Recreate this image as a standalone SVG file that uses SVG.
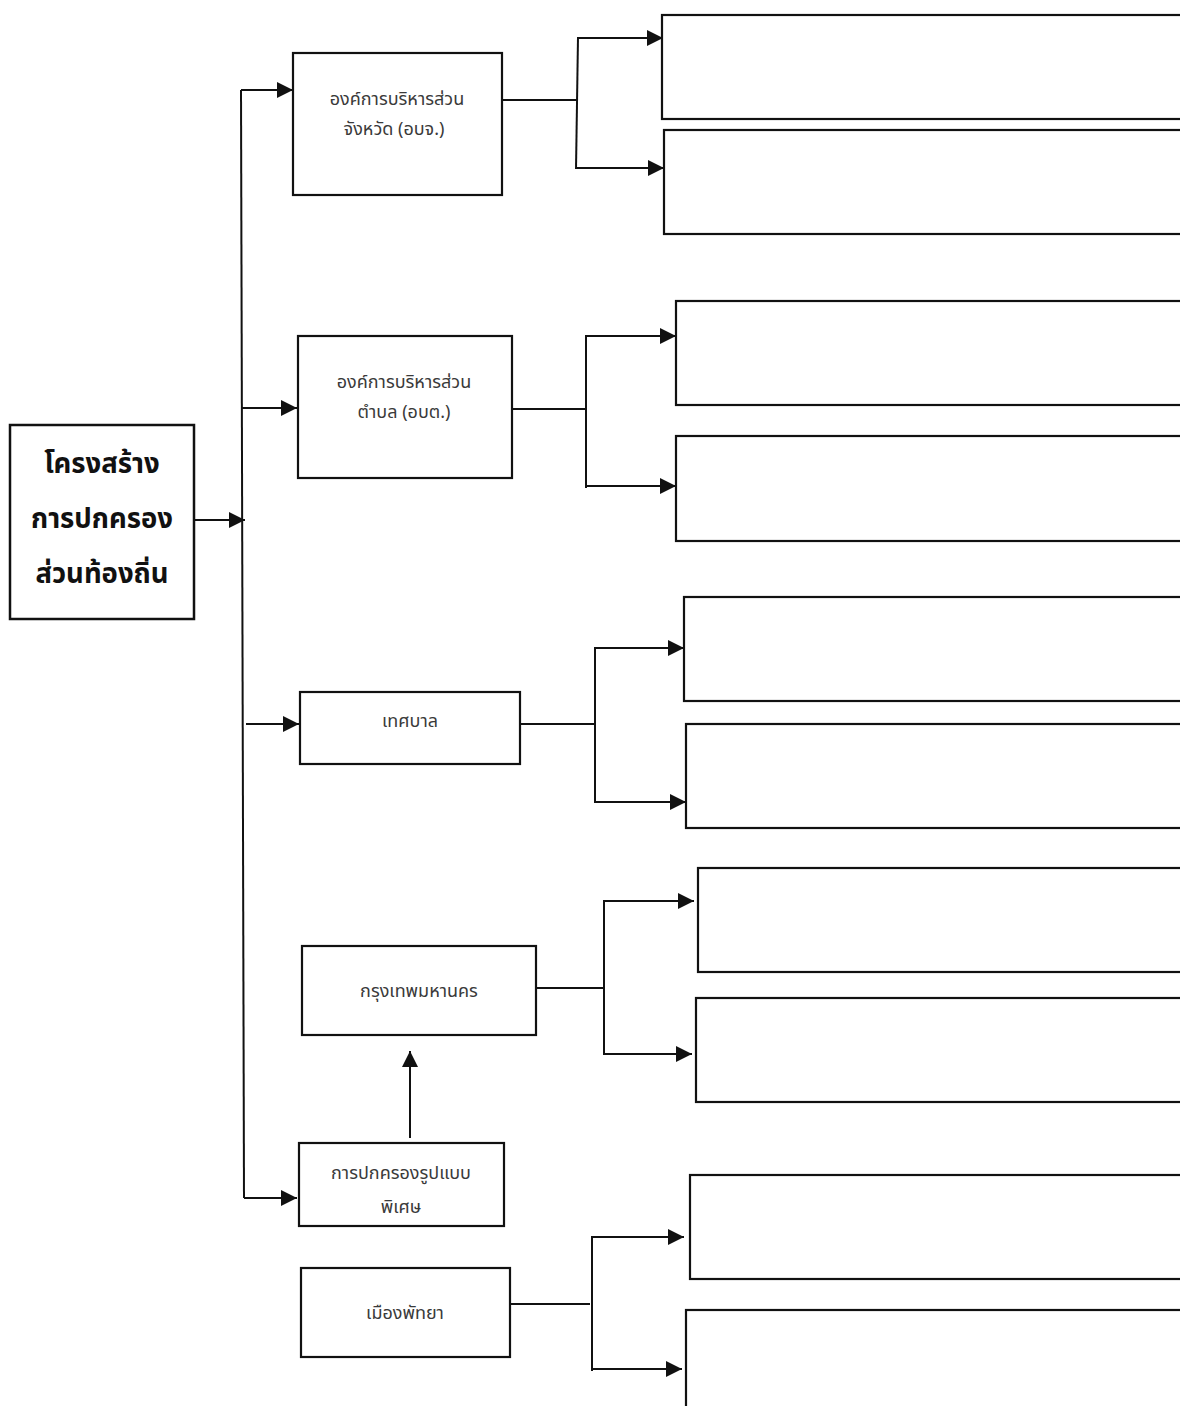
<svg xmlns="http://www.w3.org/2000/svg" width="1180" height="1406" viewBox="0 0 1180 1406">
<style>
  .box { fill: #ffffff; stroke: #111111; stroke-width: 2.2; }
  .main { fill: #ffffff; stroke: #111111; stroke-width: 2.5; }
  .ln { fill: none; stroke: #111111; stroke-width: 2; }
  .arr { fill: none; stroke: #111111; stroke-width: 2; marker-end: url(#ah); }
  .lbl { font-family: "Noto Sans Thai", "Noto Sans Thai UI", "Noto Sans", "DejaVu Sans", sans-serif; font-size: 18px; fill: #3a3a3a; text-anchor: middle; }
  .title { font-family: "Noto Sans Thai", "Noto Sans Thai UI", "Noto Sans", "DejaVu Sans", sans-serif; font-size: 27.5px; font-weight: bold; fill: #111111; text-anchor: middle; }
</style>
<defs>
  <marker id="ah" markerWidth="16" markerHeight="16" refX="16" refY="8" orient="auto" markerUnits="userSpaceOnUse">
    <path d="M0,0 L16,8 L0,16 Z" fill="#111111"/>
  </marker>
</defs>
<rect x="0" y="0" width="1180" height="1406" fill="#ffffff"/>

<g id="connectors">
  <line class="arr" x1="195" y1="520" x2="245" y2="520"/>
  <line class="ln" x1="241" y1="90" x2="244" y2="1198"/>
  <line class="arr" x1="241" y1="90" x2="293" y2="90"/>
  <line class="arr" x1="242" y1="408" x2="297" y2="408"/>
  <line class="arr" x1="246" y1="724" x2="299" y2="724"/>
  <line class="arr" x1="244" y1="1198" x2="297" y2="1198"/>
  <line class="arr" x1="410" y1="1138" x2="410" y2="1051"/>

  <line class="ln" x1="502" y1="100" x2="577" y2="100"/>
  <line class="ln" x1="578" y1="37" x2="576" y2="169"/>
  <line class="arr" x1="578" y1="38" x2="663" y2="38"/>
  <line class="arr" x1="576" y1="168" x2="664" y2="168"/>

  <line class="ln" x1="512" y1="409" x2="586" y2="409"/>
  <line class="ln" x1="586" y1="335" x2="586" y2="488"/>
  <line class="arr" x1="586" y1="336" x2="676" y2="336"/>
  <line class="arr" x1="586" y1="486" x2="676" y2="486"/>

  <line class="ln" x1="520" y1="724" x2="595" y2="724"/>
  <line class="ln" x1="595" y1="647" x2="595" y2="803"/>
  <line class="arr" x1="595" y1="648" x2="684" y2="648"/>
  <line class="arr" x1="595" y1="802" x2="686" y2="802"/>

  <line class="ln" x1="536" y1="988" x2="604" y2="988"/>
  <line class="ln" x1="604" y1="900" x2="604" y2="1055"/>
  <line class="arr" x1="604" y1="901" x2="694" y2="901"/>
  <line class="arr" x1="604" y1="1054" x2="692" y2="1054"/>

  <line class="ln" x1="507" y1="1304" x2="590" y2="1304"/>
  <line class="ln" x1="592" y1="1236" x2="592" y2="1371"/>
  <line class="arr" x1="592" y1="1237" x2="684" y2="1237"/>
  <line class="arr" x1="592" y1="1369" x2="682" y2="1369"/>
</g>

<g id="n-main">
  <rect class="main" x="10" y="425" width="184" height="194"/>
  <text class="title" x="102" y="473">โครงสร้าง</text>
  <text class="title" x="102" y="528">การปกครอง</text>
  <text class="title" x="102" y="583">ส่วนท้องถิ่น</text>
</g>

<g id="n-pao">
  <rect class="box" x="293" y="53" width="209" height="142"/>
  <text class="lbl" x="397" y="105">องค์การบริหารส่วน</text>
  <text class="lbl" x="394" y="135">จังหวัด (อบจ.)</text>
</g>

<g id="n-sao">
  <rect class="box" x="298" y="336" width="214" height="142"/>
  <text class="lbl" x="404" y="388">องค์การบริหารส่วน</text>
  <text class="lbl" x="404" y="418">ตำบล (อบต.)</text>
</g>

<g id="n-muni">
  <rect class="box" x="300" y="692" width="220" height="72"/>
  <text class="lbl" x="410" y="727">เทศบาล</text>
</g>

<g id="n-bkk">
  <rect class="box" x="302" y="946" width="234" height="89"/>
  <text class="lbl" x="419" y="997">กรุงเทพมหานคร</text>
</g>

<g id="n-special">
  <rect class="box" x="299" y="1143" width="205" height="83"/>
  <text class="lbl" x="401" y="1179">การปกครองรูปแบบ</text>
  <text class="lbl" x="401" y="1213">พิเศษ</text>
</g>

<g id="n-pattaya">
  <rect class="box" x="301" y="1268" width="209" height="89"/>
  <text class="lbl" x="405" y="1319">เมืองพัทยา</text>
</g>

<g id="n-r1"><rect class="box" x="662" y="15" width="530" height="104"/></g>
<g id="n-r2"><rect class="box" x="664" y="130" width="530" height="104"/></g>
<g id="n-r3"><rect class="box" x="676" y="301" width="520" height="104"/></g>
<g id="n-r4"><rect class="box" x="676" y="436" width="520" height="105"/></g>
<g id="n-r5"><rect class="box" x="684" y="597" width="510" height="104"/></g>
<g id="n-r6"><rect class="box" x="686" y="724" width="510" height="104"/></g>
<g id="n-r7"><rect class="box" x="698" y="868" width="500" height="104"/></g>
<g id="n-r8"><rect class="box" x="696" y="998" width="500" height="104"/></g>
<g id="n-r9"><rect class="box" x="690" y="1175" width="500" height="104"/></g>
<g id="n-r10"><rect class="box" x="686" y="1310" width="510" height="110"/></g>
</svg>
